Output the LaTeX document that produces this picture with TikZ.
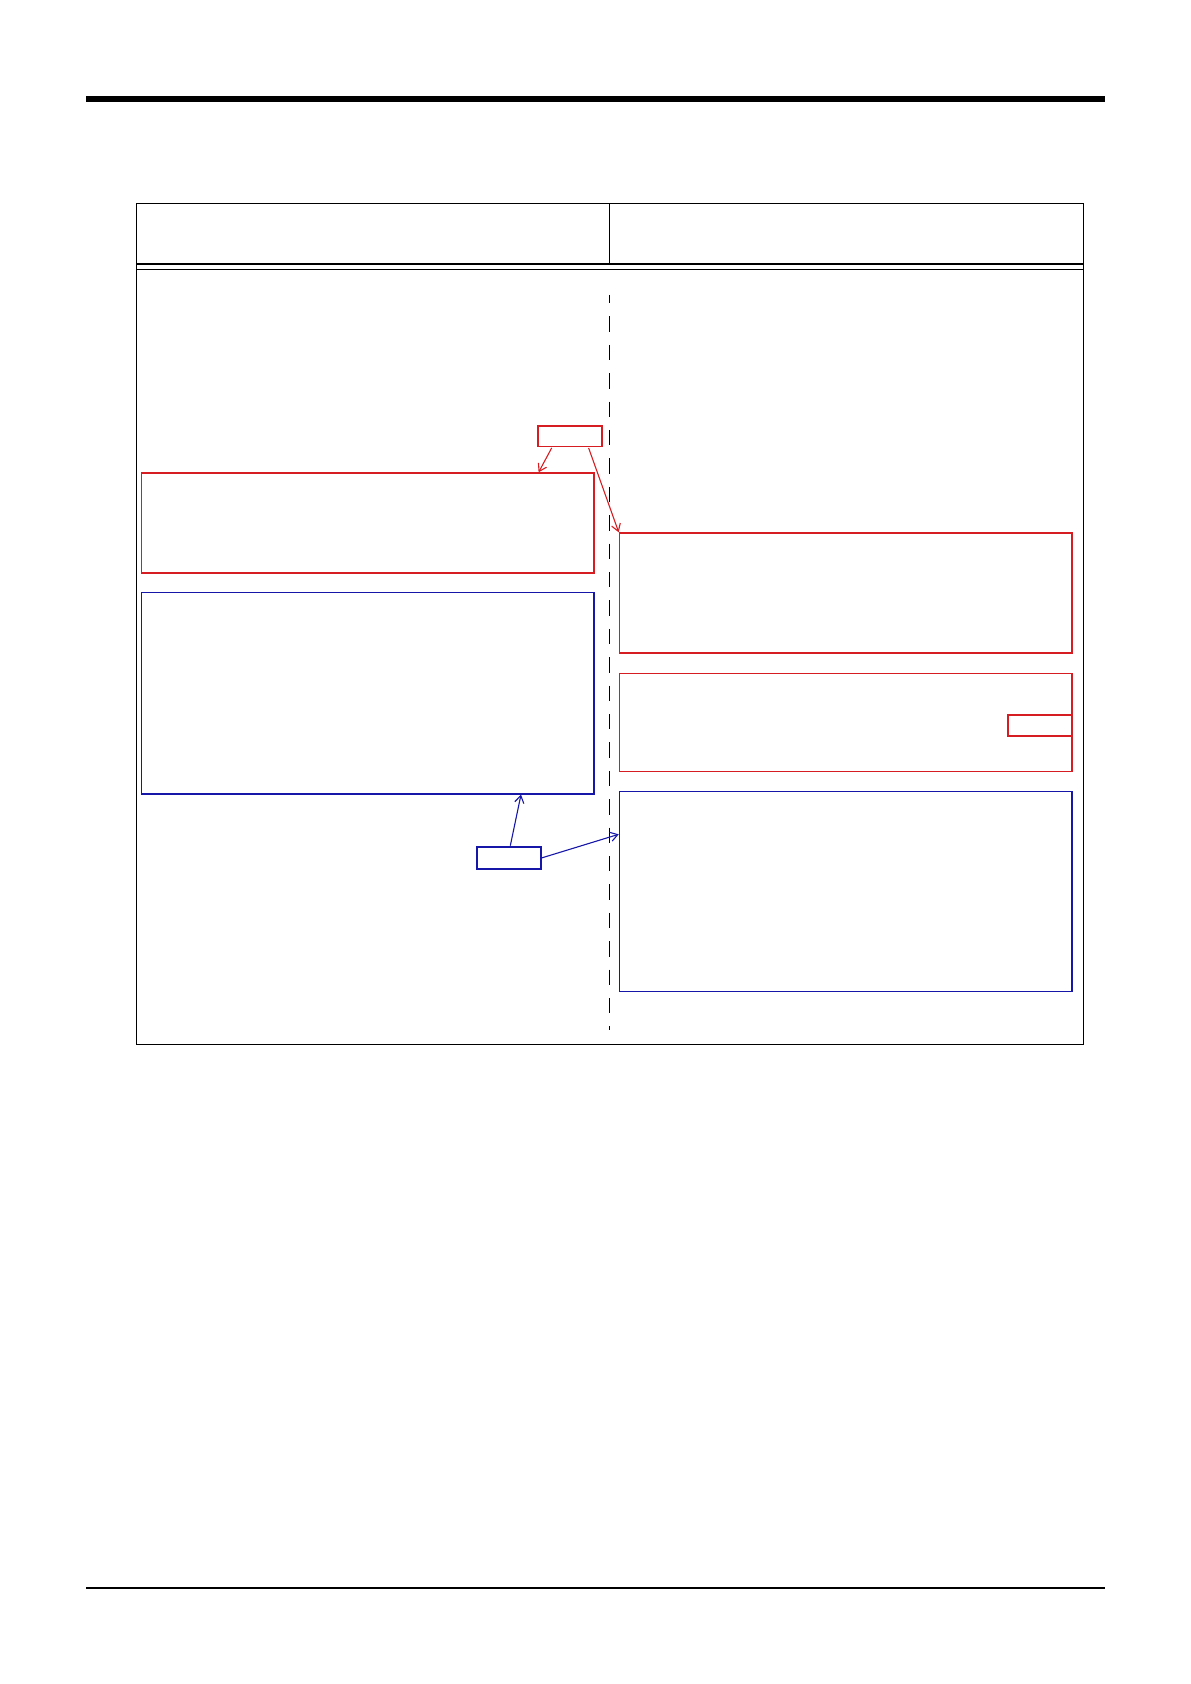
\documentclass[tikz,border=0pt]{standalone}
\usepackage{tikz}
\usetikzlibrary{calc}
\usetikzlibrary{arrows.meta}
\definecolor{boxred}{RGB}{214,30,34}
\definecolor{boxblue}{RGB}{22,22,168}
\tikzset{
    redbox/.style={draw=boxred, line width=0.65pt, inner sep=0pt, anchor=north west},
    bluebox/.style={draw=boxblue, line width=0.65pt, inner sep=0pt, anchor=north west},
    redarrow/.style={draw=boxred, line width=0.55pt, -{Straight Barb[length=3.6pt,width=4.6pt]}},
    bluearrow/.style={draw=boxblue, line width=0.55pt, -{Straight Barb[length=3.6pt,width=4.6pt]}}
}
\begin{document}
\begin{tikzpicture}[x=1pt,y=-1pt]
        \useasboundingbox (0,0) rectangle (595,842);
        % top and bottom rules
        \draw[line width=3pt] (43,49.5) -- (552.5,49.5);
        \draw[line width=1pt] (43,793.85) -- (552.5,793.85);
        % frame and header
        \draw[line width=0.7pt] (68.15,101.65) rectangle (541.65,522.15);
        \draw[line width=0.5pt] (304.8,101.65) -- (304.8,132);
        \draw[line width=0.7pt] (68.15,132) -- (541.65,132);
        \draw[line width=0.7pt] (68.15,134.65) -- (541.65,134.65);
        % dashed middle line
        \draw[line width=0.75pt, dash pattern=on 7.7pt off 6.5pt, dash phase=3.5pt] (304.8,147.5) -- (304.8,515);

        % left column
        \node[redbox, minimum width=226.15pt, minimum height=50pt] (redL) at (70.5,236.15) {};
        \node[bluebox, minimum width=226.15pt, minimum height=100.8pt] (blueL) at (70.5,295.85) {};
        % right column
        \node[redbox, minimum width=226.3pt, minimum height=60pt] (redA) at (309.35,266.15) {};
        \node[redbox, minimum width=226.3pt, minimum height=49.15pt] (redB) at (309.35,336.35) {};
        \node[redbox, minimum width=32pt, minimum height=10.5pt] (tagB) at (503.65,357.15) {};
        \node[bluebox, minimum width=226.3pt, minimum height=100pt] (blueR) at (309.35,395.5) {};

        % small tags
        \node[redbox, minimum width=32pt, minimum height=10.35pt] (tagR) at (268.65,212.65) {};
        \node[bluebox, minimum width=32pt, minimum height=11pt] (tagL) at (238.15,423.15) {};

        % arrows
        \draw[redarrow] ($(tagR.south west)+(7.2,0.3)$) -- ($(redL.north east)+(-28,0)$);
        \draw[redarrow] ($(tagR.south east)+(-7,0.3)$) -- (redA.north west);
        \draw[bluearrow] ($(tagL.north west)+(17,-0.3)$) -- ($(blueL.south east)+(-36.8,0)$);
        \draw[bluearrow] (tagL.east) -- ($(blueR.north west)+(0,21.65)$);
    \end{tikzpicture}
\end{document}
